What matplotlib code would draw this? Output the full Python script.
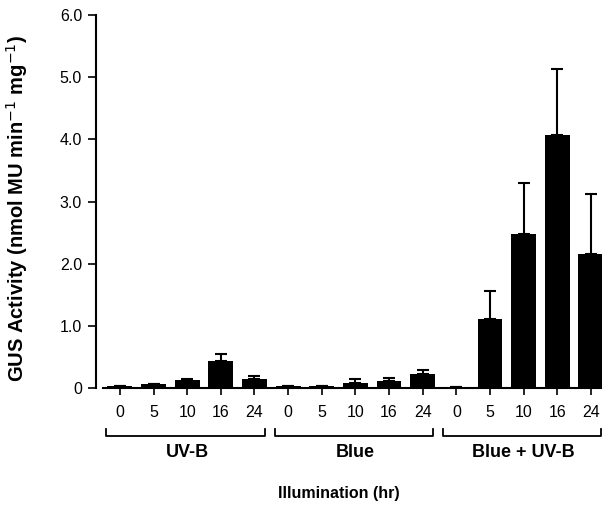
import numpy as np
import matplotlib
matplotlib.use('Agg')
import matplotlib.pyplot as plt
import matplotlib.transforms as mtransforms

plt.rcParams['font.family'] = ['Liberation Sans', 'DejaVu Sans']

groups = ['UV-B', 'Blue', 'Blue + UV-B']
hours = ['0', '5', '10', '16', '24']

# mean GUS activity and upper error, per group
uvb_mean = [0.04, 0.07, 0.13, 0.44, 0.14]
uvb_err = [0.0, 0.0, 0.02, 0.11, 0.05]
blue_mean = [0.03, 0.03, 0.08, 0.11, 0.22]
blue_err = [0.0, 0.0, 0.06, 0.05, 0.07]
both_mean = [0.02, 1.11, 2.48, 4.07, 2.16]
both_err = [0.0, 0.45, 0.82, 1.06, 0.96]

means = uvb_mean + blue_mean + both_mean
errs = uvb_err + blue_err + both_err
x = np.arange(len(means))

fig = plt.figure(figsize=(6.02, 5.09), dpi=100)
ax = fig.add_axes([96 / 602, 1 - 388 / 509, 1 - 96 / 602, 373 / 509])

ax.bar(x, means, width=0.74, color='black', zorder=2)
ax.errorbar(x, means, yerr=[np.zeros(len(errs)), errs], fmt='none',
            ecolor='black', elinewidth=1.5, capsize=4.5, capthick=1.5, zorder=3)

ax.set_xlim(-0.71, 14.33)
ax.set_ylim(0, 6.0)
ax.set_yticks([0, 1, 2, 3, 4, 5, 6])
ax.set_yticklabels(['0', '1.0', '2.0', '3.0', '4.0', '5.0', '6.0'])
ax.set_xticks(x)
ax.set_xticklabels(hours * 3)
ax.tick_params(axis='y', direction='out', length=6, width=1.2, pad=4, labelsize=11.5)
ax.tick_params(axis='x', direction='out', length=5, width=1.2, pad=7, labelsize=11.5)

for s in ['top', 'right']:
    ax.spines[s].set_visible(False)
ax.spines['left'].set_linewidth(1.5)
ax.spines['bottom'].set_linewidth(1.5)
ax.spines['bottom'].set_bounds(-0.5, 14.33)

ax.set_ylabel('GUS Activity (nmol MU min$^{-1}$ mg$^{-1}$)', fontsize=14.5,
              fontweight='bold')
ax.yaxis.set_label_coords(-0.13, 0.48)

trans = mtransforms.blended_transform_factory(ax.transData, ax.transAxes)
for i, g in enumerate(groups):
    x0 = i * 5 - 0.4
    x1 = i * 5 + 4.3
    ax.plot([x0, x0, x1, x1], [-0.110, -0.129, -0.129, -0.110], color='black',
            lw=1.3, transform=trans, clip_on=False)
    ax.text(i * 5 + 2, -0.172, g, transform=trans, ha='center', va='center',
            fontsize=13, fontweight='bold')

ax.text(0.48, -0.282, 'Illumination (hr)', transform=ax.transAxes, ha='center',
        va='center', fontsize=11.5, fontweight='bold')

fig.savefig('out.png', dpi=100)
